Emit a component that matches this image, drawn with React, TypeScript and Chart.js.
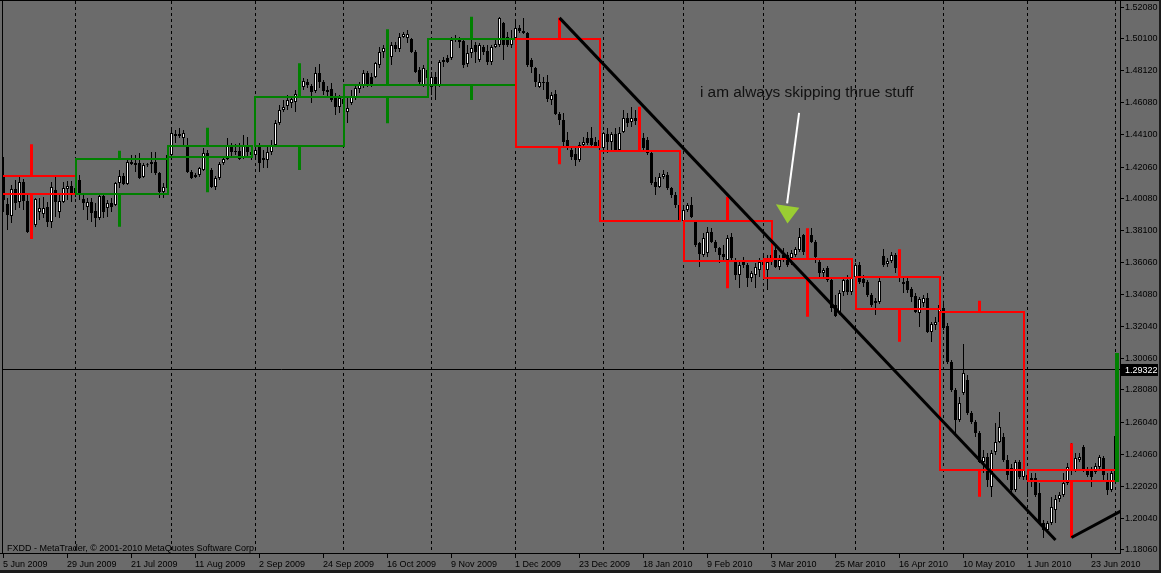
import React, { useEffect, useRef } from 'react';
import { Chart, registerables } from 'chart.js';

Chart.register(...registerables);

// ---- daily candles (EUR/USD, FXDD), bar index 0 = 5 Jun 2009 ----
const barOpen = [
  1.4153, 1.3971, 1.3896, 1.4065, 1.3984, 1.4109, 1.3990, 1.3795, 1.3839, 1.3921,
  1.3908, 1.3952, 1.3858, 1.4059, 1.3921, 1.3984, 1.4065, 1.4084, 1.4034, 1.4121,
  1.4002, 1.3952, 1.3984, 1.3927, 1.3883, 1.4021, 1.3946, 1.3977, 1.3965, 1.4103,
  1.4147, 1.4096, 1.4234, 1.4228, 1.4228, 1.4140, 1.4215, 1.4234, 1.4234, 1.4165,
  1.4046, 1.4071, 1.4278, 1.4410, 1.4410, 1.4385, 1.4341, 1.4172, 1.4140, 1.4153,
  1.4184, 1.4291, 1.4184, 1.4078, 1.4134, 1.4228, 1.4253, 1.4328, 1.4303, 1.4303,
  1.4259, 1.4335, 1.4297, 1.4278, 1.4328, 1.4259, 1.4247, 1.4297, 1.4341, 1.4479,
  1.4560, 1.4585, 1.4604, 1.4611, 1.4661, 1.4705, 1.4736, 1.4711, 1.4679, 1.4792,
  1.4736, 1.4686, 1.4692, 1.4642, 1.4579, 1.4629, 1.4548, 1.4604, 1.4642, 1.4692,
  1.4717, 1.4792, 1.4767, 1.4767, 1.4842, 1.4924, 1.4949, 1.4893, 1.4968, 1.4943,
  1.5018, 1.5012, 1.5006, 1.4924, 1.4811, 1.4717, 1.4811, 1.4705, 1.4767, 1.4717,
  1.4861, 1.4886, 1.4886, 1.5012, 1.4999, 1.4993, 1.4849, 1.4918, 1.4968, 1.4874,
  1.4955, 1.4930, 1.4861, 1.4955, 1.4968, 1.5106, 1.5018, 1.4968, 1.5012, 1.5074,
  1.5043, 1.5043, 1.4874, 1.4824, 1.4705, 1.4736, 1.4736, 1.4623, 1.4661, 1.4535,
  1.4498, 1.4372, 1.4310, 1.4284, 1.4247, 1.4341, 1.4385, 1.4385, 1.4360, 1.4335,
  1.4322, 1.4410, 1.4360, 1.4410, 1.4310, 1.4422, 1.4510, 1.4485, 1.4510, 1.4491,
  1.4385, 1.4372, 1.4291, 1.4109, 1.4078, 1.4140, 1.4153, 1.4071, 1.4027, 1.3965,
  1.3864, 1.3933, 1.3965, 1.3858, 1.3726, 1.3651, 1.3664, 1.3795, 1.3733, 1.3695,
  1.3657, 1.3620, 1.3764, 1.3620, 1.3526, 1.3620, 1.3588, 1.3507, 1.3526, 1.3557,
  1.3607, 1.3557, 1.3607, 1.3683, 1.3576, 1.3651, 1.3651, 1.3632, 1.3651, 1.3683,
  1.3777, 1.3683, 1.3777, 1.3733, 1.3607, 1.3538, 1.3570, 1.3494, 1.3338, 1.3294,
  1.3419, 1.3494, 1.3419, 1.3513, 1.3588, 1.3501, 1.3482, 1.3400, 1.3350, 1.3357,
  1.3645, 1.3595, 1.3614, 1.3651, 1.3570, 1.3469, 1.3488, 1.3438, 1.3394, 1.3288,
  1.3350, 1.3382, 1.3168, 1.3212, 1.3231, 1.3319, 1.3206, 1.2980, 1.2805, 1.2617,
  1.2786, 1.2867, 1.2661, 1.2604, 1.2535, 1.2353, 1.2385, 1.2197, 1.2416, 1.2479,
  1.2510, 1.2366, 1.2316, 1.2178, 1.2353, 1.2259, 1.2272, 1.2253, 1.2253, 1.2159,
  1.1971, 1.1927, 1.1971, 1.2052, 1.2121, 1.2146, 1.2222, 1.2322, 1.2303, 1.2366,
  1.2447, 1.2303, 1.2303, 1.2291, 1.2322, 1.2378, 1.2240, 1.2178, 1.2240,
];
const barHigh = [
  1.4266, 1.4009, 1.4090, 1.4121, 1.4153, 1.4128, 1.4027, 1.3921, 1.4009, 1.4009,
  1.4015, 1.3984, 1.4109, 1.4140, 1.4027, 1.4109, 1.4115, 1.4115, 1.4121, 1.4153,
  1.4027, 1.4009, 1.4009, 1.3977, 1.4027, 1.4027, 1.3996, 1.4009, 1.4109, 1.4184,
  1.4165, 1.4247, 1.4278, 1.4278, 1.4291, 1.4228, 1.4228, 1.4297, 1.4297, 1.4172,
  1.4103, 1.4310, 1.4435, 1.4435, 1.4447, 1.4435, 1.4385, 1.4184, 1.4165, 1.4203,
  1.4322, 1.4310, 1.4197, 1.4147, 1.4234, 1.4266, 1.4385, 1.4353, 1.4347, 1.4353,
  1.4404, 1.4391, 1.4341, 1.4341, 1.4353, 1.4310, 1.4328, 1.4372, 1.4498, 1.4592,
  1.4623, 1.4654, 1.4648, 1.4686, 1.4717, 1.4761, 1.4755, 1.4723, 1.4830, 1.4849,
  1.4748, 1.4711, 1.4730, 1.4667, 1.4654, 1.4654, 1.4636, 1.4686, 1.4723, 1.4736,
  1.4811, 1.4805, 1.4792, 1.4861, 1.4955, 1.4968, 1.4999, 1.4987, 1.4987, 1.5043,
  1.5049, 1.5062, 1.5012, 1.4937, 1.4830, 1.4842, 1.4836, 1.4799, 1.4799, 1.4874,
  1.4893, 1.4905, 1.5018, 1.5031, 1.5018, 1.5012, 1.4968, 1.4999, 1.4987, 1.4980,
  1.4968, 1.4968, 1.4968, 1.5012, 1.5143, 1.5112, 1.5049, 1.5062, 1.5125, 1.5093,
  1.5137, 1.5049, 1.4886, 1.4830, 1.4786, 1.4767, 1.4780, 1.4673, 1.4686, 1.4548,
  1.4542, 1.4422, 1.4328, 1.4322, 1.4360, 1.4391, 1.4422, 1.4454, 1.4391, 1.4416,
  1.4422, 1.4447, 1.4422, 1.4447, 1.4454, 1.4560, 1.4542, 1.4579, 1.4560, 1.4548,
  1.4416, 1.4391, 1.4297, 1.4140, 1.4165, 1.4184, 1.4172, 1.4078, 1.4046, 1.3996,
  1.3946, 1.3977, 1.4015, 1.3871, 1.3733, 1.3789, 1.3827, 1.3820, 1.3745, 1.3701,
  1.3714, 1.3777, 1.3789, 1.3632, 1.3607, 1.3639, 1.3601, 1.3551, 1.3601, 1.3632,
  1.3651, 1.3651, 1.3683, 1.3714, 1.3651, 1.3695, 1.3670, 1.3683, 1.3701, 1.3820,
  1.3783, 1.3745, 1.3820, 1.3745, 1.3620, 1.3570, 1.3582, 1.3513, 1.3400, 1.3432,
  1.3513, 1.3526, 1.3532, 1.3601, 1.3607, 1.3526, 1.3494, 1.3413, 1.3382, 1.3520,
  1.3689, 1.3632, 1.3670, 1.3664, 1.3588, 1.3507, 1.3507, 1.3451, 1.3413, 1.3388,
  1.3400, 1.3413, 1.3231, 1.3262, 1.3369, 1.3365, 1.3225, 1.2993, 1.2817, 1.2761,
  1.3093, 1.2899, 1.2673, 1.2617, 1.2548, 1.2429, 1.2410, 1.2429, 1.2598, 1.2667,
  1.2535, 1.2397, 1.2341, 1.2366, 1.2366, 1.2334, 1.2284, 1.2284, 1.2284, 1.2222,
  1.1990, 1.1983, 1.2134, 1.2146, 1.2165, 1.2284, 1.2347, 1.2472, 1.2410, 1.2410,
  1.2460, 1.2322, 1.2322, 1.2347, 1.2397, 1.2391, 1.2284, 1.2303, 1.2523,
];
const barLow = [
  1.3921, 1.3808, 1.3852, 1.3933, 1.3946, 1.3933, 1.3789, 1.3770, 1.3827, 1.3871,
  1.3883, 1.3827, 1.3820, 1.3889, 1.3883, 1.3977, 1.3996, 1.3984, 1.4015, 1.3996,
  1.3933, 1.3871, 1.3858, 1.3827, 1.3871, 1.3883, 1.3889, 1.3921, 1.3958, 1.4071,
  1.4090, 1.4090, 1.4215, 1.4172, 1.4128, 1.4134, 1.4203, 1.4165, 1.4153, 1.4009,
  1.4009, 1.4046, 1.4266, 1.4353, 1.4385, 1.4341, 1.4165, 1.4128, 1.4134, 1.4140,
  1.4178, 1.4184, 1.4071, 1.4059, 1.4121, 1.4215, 1.4247, 1.4272, 1.4278, 1.4247,
  1.4253, 1.4266, 1.4247, 1.4247, 1.4172, 1.4197, 1.4197, 1.4278, 1.4328, 1.4466,
  1.4548, 1.4560, 1.4573, 1.4548, 1.4636, 1.4686, 1.4698, 1.4604, 1.4667, 1.4698,
  1.4654, 1.4648, 1.4611, 1.4529, 1.4542, 1.4560, 1.4479, 1.4592, 1.4623, 1.4667,
  1.4698, 1.4705, 1.4705, 1.4761, 1.4824, 1.4886, 1.4874, 1.4842, 1.4924, 1.4924,
  1.5012, 1.4980, 1.4918, 1.4792, 1.4717, 1.4705, 1.4717, 1.4654, 1.4623, 1.4705,
  1.4830, 1.4855, 1.4874, 1.4987, 1.4949, 1.4824, 1.4830, 1.4886, 1.4855, 1.4861,
  1.4905, 1.4842, 1.4842, 1.4949, 1.4955, 1.4874, 1.4955, 1.4949, 1.4999, 1.5043,
  1.5037, 1.4830, 1.4792, 1.4705, 1.4698, 1.4686, 1.4611, 1.4592, 1.4529, 1.4466,
  1.4322, 1.4310, 1.4247, 1.4209, 1.4234, 1.4328, 1.4341, 1.4328, 1.4322, 1.4310,
  1.4310, 1.4291, 1.4297, 1.4297, 1.4297, 1.4416, 1.4454, 1.4454, 1.4466, 1.4322,
  1.4297, 1.4278, 1.4090, 1.4027, 1.4071, 1.4128, 1.4059, 1.4009, 1.3946, 1.3858,
  1.3858, 1.3921, 1.3883, 1.3701, 1.3576, 1.3639, 1.3639, 1.3726, 1.3670, 1.3601,
  1.3607, 1.3588, 1.3620, 1.3494, 1.3444, 1.3570, 1.3451, 1.3482, 1.3444, 1.3513,
  1.3494, 1.3432, 1.3588, 1.3570, 1.3557, 1.3607, 1.3576, 1.3588, 1.3639, 1.3670,
  1.3651, 1.3632, 1.3726, 1.3601, 1.3513, 1.3513, 1.3482, 1.3294, 1.3262, 1.3275,
  1.3394, 1.3400, 1.3400, 1.3501, 1.3469, 1.3451, 1.3388, 1.3325, 1.3275, 1.3344,
  1.3576, 1.3576, 1.3601, 1.3538, 1.3482, 1.3413, 1.3413, 1.3357, 1.3288, 1.3200,
  1.3325, 1.3162, 1.3106, 1.3181, 1.3212, 1.3181, 1.2968, 1.2792, 1.2535, 1.2604,
  1.2773, 1.2648, 1.2592, 1.2510, 1.2347, 1.2284, 1.2197, 1.2134, 1.2397, 1.2472,
  1.2353, 1.2240, 1.2165, 1.2165, 1.2247, 1.2240, 1.2134, 1.2197, 1.2134, 1.1958,
  1.1877, 1.1908, 1.1958, 1.1971, 1.2103, 1.2134, 1.2209, 1.2272, 1.2291, 1.2353,
  1.2291, 1.2259, 1.2197, 1.2278, 1.2303, 1.2240, 1.2146, 1.2165, 1.2228,
];
const barClose = [
  1.3996, 1.3902, 1.4065, 1.3977, 1.4109, 1.3990, 1.3795, 1.3833, 1.4002, 1.3946,
  1.3946, 1.3858, 1.4078, 1.3984, 1.3990, 1.4071, 1.4084, 1.4034, 1.4071, 1.4027,
  1.3977, 1.3984, 1.3915, 1.3883, 1.4021, 1.3921, 1.3977, 1.3952, 1.4103, 1.4147,
  1.4096, 1.4234, 1.4222, 1.4215, 1.4134, 1.4215, 1.4214, 1.4222, 1.4165, 1.4046,
  1.4078, 1.4278, 1.4416, 1.4397, 1.4397, 1.4416, 1.4172, 1.4134, 1.4153, 1.4197,
  1.4291, 1.4215, 1.4078, 1.4134, 1.4222, 1.4253, 1.4335, 1.4297, 1.4297, 1.4253,
  1.4341, 1.4297, 1.4278, 1.4310, 1.4228, 1.4247, 1.4297, 1.4341, 1.4479, 1.4560,
  1.4579, 1.4623, 1.4629, 1.4661, 1.4698, 1.4742, 1.4717, 1.4673, 1.4792, 1.4736,
  1.4679, 1.4673, 1.4623, 1.4579, 1.4636, 1.4598, 1.4573, 1.4642, 1.4698, 1.4723,
  1.4792, 1.4717, 1.4717, 1.4855, 1.4924, 1.4949, 1.4937, 1.4968, 1.4943, 1.5018,
  1.5037, 1.5037, 1.4924, 1.4799, 1.4736, 1.4824, 1.4761, 1.4767, 1.4717, 1.4861,
  1.4874, 1.4861, 1.4999, 1.4999, 1.4987, 1.4842, 1.4918, 1.4949, 1.4924, 1.4968,
  1.4924, 1.4861, 1.4955, 1.4974, 1.5137, 1.4968, 1.4968, 1.5012, 1.5074, 1.5056,
  1.5056, 1.4842, 1.4830, 1.4736, 1.4736, 1.4730, 1.4629, 1.4654, 1.4535, 1.4498,
  1.4360, 1.4335, 1.4266, 1.4247, 1.4341, 1.4360, 1.4353, 1.4341, 1.4335, 1.4372,
  1.4416, 1.4360, 1.4410, 1.4310, 1.4416, 1.4510, 1.4479, 1.4510, 1.4491, 1.4372,
  1.4322, 1.4291, 1.4103, 1.4078, 1.4140, 1.4159, 1.4071, 1.4027, 1.3965, 1.3864,
  1.3933, 1.3965, 1.3889, 1.3714, 1.3657, 1.3758, 1.3795, 1.3733, 1.3695, 1.3651,
  1.3639, 1.3758, 1.3632, 1.3526, 1.3588, 1.3588, 1.3507, 1.3538, 1.3576, 1.3607,
  1.3588, 1.3607, 1.3651, 1.3576, 1.3620, 1.3632, 1.3588, 1.3664, 1.3689, 1.3764,
  1.3670, 1.3714, 1.3733, 1.3639, 1.3538, 1.3557, 1.3494, 1.3319, 1.3269, 1.3413,
  1.3494, 1.3419, 1.3507, 1.3588, 1.3482, 1.3476, 1.3400, 1.3338, 1.3363, 1.3488,
  1.3588, 1.3614, 1.3651, 1.3570, 1.3507, 1.3482, 1.3432, 1.3388, 1.3294, 1.3375,
  1.3382, 1.3168, 1.3219, 1.3231, 1.3338, 1.3193, 1.2980, 1.2805, 1.2617, 1.2723,
  1.2911, 1.2661, 1.2604, 1.2535, 1.2353, 1.2385, 1.2240, 1.2410, 1.2479, 1.2573,
  1.2366, 1.2272, 1.2178, 1.2353, 1.2259, 1.2303, 1.2240, 1.2228, 1.2146, 1.1971,
  1.1927, 1.1971, 1.2071, 1.2121, 1.2146, 1.2222, 1.2322, 1.2366, 1.2378, 1.2385,
  1.2303, 1.2272, 1.2259, 1.2328, 1.2385, 1.2272, 1.2178, 1.2284, 1.2516,
];

// ---- monthly candles drawn as boxes (Jun 2009 .. Jul 2010) ----
const monthStartBar = [-4, 18, 41, 63, 85, 106, 128, 149, 170, 190, 213, 234, 256, 278];
const monthEndBar = [18, 41, 62, 85, 106, 128, 149, 169, 192, 212, 234, 255, 278, 278.6];
const monthWickBar = [7, 29, 51, 74, 96, 117, 139, 159, 181, 201, 224, 244, 267, 278];
const monthOpen = [1.4147, 1.4036, 1.4268, 1.4337, 1.4644, 1.4717, 1.5006, 1.4303, 1.3864, 1.3626, 1.3515, 1.3292, 1.2303, 1.2236];
const monthHigh = [1.4345, 1.4305, 1.4449, 1.4853, 1.5066, 1.5145, 1.5138, 1.4581, 1.4017, 1.3819, 1.3687, 1.3365, 1.2471, 1.3031];
const monthLow = [1.3752, 1.3829, 1.4044, 1.4184, 1.4477, 1.4623, 1.4220, 1.3858, 1.3443, 1.3264, 1.3108, 1.2136, 1.1879, 1.2236];
const monthClose = [1.4036, 1.4255, 1.4337, 1.4644, 1.4717, 1.5006, 1.4331, 1.3864, 1.3616, 1.3509, 1.3313, 1.2303, 1.2236, 1.3031];

// ---- axes ----
const separatorBars = [18, 42, 63, 85, 107, 128, 150, 170, 190, 213, 235, 256, 278];
const dateTickBars = [0, 16, 32, 48, 64, 80, 96, 112, 128, 144, 160, 176, 192, 208, 224, 240, 256, 272];
const dateTickLabels = [
  '5 Jun 2009', '29 Jun 2009', '21 Jul 2009', '11 Aug 2009', '2 Sep 2009', '24 Sep 2009',
  '16 Oct 2009', '9 Nov 2009', '1 Dec 2009', '23 Dec 2009', '18 Jan 2010', '9 Feb 2010',
  '3 Mar 2010', '25 Mar 2010', '16 Apr 2010', '10 May 2010', '1 Jun 2010', '23 Jun 2010',
];
const priceTicks = [
  1.52080, 1.50100, 1.48120, 1.46080, 1.44100, 1.42060, 1.40080, 1.38100, 1.36060,
  1.34080, 1.32040, 1.30060, 1.28080, 1.26040, 1.24060, 1.22020, 1.20040, 1.18060,
];
const bidPrice = 1.29322;
const X_MIN = -0.375;
const X_MAX = 279.125;
const Y_MIN = 1.17829;
const Y_MAX = 1.52437;

// ---- drawn objects ----
const trendFrom = [[139, 1.5138], [267, 1.1880]];
const trendTo = [[263, 1.1864], [280, 1.2055]];
const noteText = 'i am always skipping thrue stuff';
const noteAnchor = [174.1, 1.4642];
const arrowTail = [198.9, 1.4543];
const arrowTip = [195.9, 1.3975];
const arrowHead = [[193.1, 1.3969], [198.95, 1.3948], [196.0, 1.3849]];
const copyright = 'FXDD - MetaTrader, \u00A9 2001-2010 MetaQuotes Software Corp.';

// ---- styles ----
const W = 1161;
const H = 573;
const BG = '#6b6b6b';
const GREEN = '#008000';
const RED = '#ff0000';
const FONT = '9px "Liberation Sans", Arial, sans-serif';
const NOTE_FONT = '15.4px "Liberation Sans", Arial, sans-serif';

const mt4Plugin = {
  id: 'mt4Overlay',
  beforeDraw(chart: any) {
    const { ctx } = chart;
    ctx.save();
    ctx.fillStyle = BG;
    ctx.fillRect(0, 0, W, H);
    ctx.restore();
  },
  beforeDatasetsDraw(chart: any) {
    const { ctx, chartArea: a } = chart;
    const xs = chart.scales.x;
    const ys = chart.scales.y;
    ctx.save();
    ctx.beginPath();
    ctx.rect(a.left, a.top, a.right - a.left, a.bottom - a.top);
    ctx.clip();
    ctx.strokeStyle = '#000';
    ctx.lineWidth = 1;
    ctx.setLineDash([3, 3]);
    separatorBars.forEach((b) => {
      const px = Math.floor(xs.getPixelForValue(b)) + 0.5;
      ctx.beginPath();
      ctx.moveTo(px, a.top);
      ctx.lineTo(px, a.bottom);
      ctx.stroke();
    });
    ctx.setLineDash([]);
    const by = Math.floor(ys.getPixelForValue(bidPrice)) + 0.5;
    ctx.beginPath();
    ctx.moveTo(a.left, by);
    ctx.lineTo(a.right, by);
    ctx.stroke();
    ctx.restore();
  },
  afterDatasetsDraw(chart: any) {
    const { ctx, chartArea: a } = chart;
    const xs = chart.scales.x;
    const ys = chart.scales.y;
    const px = (v: number) => xs.getPixelForValue(v);
    const py = (v: number) => ys.getPixelForValue(v);

    ctx.save();
    ctx.beginPath();
    ctx.rect(a.left, a.top, a.right - a.left, a.bottom - a.top);
    ctx.clip();

    // monthly boxes
    monthOpen.forEach((o, m) => {
      const c = monthClose[m];
      ctx.strokeStyle = c >= o ? GREEN : RED;
      const x1 = Math.round(px(monthStartBar[m]));
      const x2 = Math.round(px(monthEndBar[m]));
      const yTop = Math.round(py(Math.max(o, c)));
      const yBot = Math.round(py(Math.min(o, c)));
      const xw = px(monthWickBar[m]);
      ctx.lineWidth = 3;
      ctx.beginPath();
      ctx.moveTo(xw, py(monthHigh[m]));
      ctx.lineTo(xw, yTop);
      ctx.moveTo(xw, yBot);
      ctx.lineTo(xw, py(monthLow[m]));
      ctx.stroke();
      ctx.lineWidth = 2;
      ctx.strokeRect(x1, yTop, x2 - x1, yBot - yTop);
    });

    // trend lines
    ctx.strokeStyle = '#000';
    ctx.lineWidth = 3;
    trendFrom.forEach((f, k) => {
      const t = trendTo[k];
      ctx.beginPath();
      ctx.moveTo(px(f[0]), py(f[1]));
      ctx.lineTo(px(t[0]), py(t[1]));
      ctx.stroke();
    });

    // arrow + text
    ctx.strokeStyle = '#ffffff';
    ctx.lineWidth = 2;
    ctx.beginPath();
    ctx.moveTo(px(arrowTail[0]), py(arrowTail[1]));
    ctx.lineTo(px(arrowTip[0]), py(arrowTip[1]));
    ctx.stroke();
    ctx.fillStyle = '#9acd32';
    ctx.beginPath();
    arrowHead.forEach((p, k) => {
      if (k === 0) ctx.moveTo(px(p[0]), py(p[1]));
      else ctx.lineTo(px(p[0]), py(p[1]));
    });
    ctx.closePath();
    ctx.fill();
    ctx.fillStyle = '#111111';
    ctx.font = NOTE_FONT;
    ctx.textBaseline = 'alphabetic';
    ctx.textAlign = 'left';
    ctx.fillText(noteText, px(noteAnchor[0]), py(noteAnchor[1]));
    ctx.restore();

    // frame, axes, labels
    ctx.save();
    ctx.fillStyle = '#000';
    ctx.fillRect(0, 0, W, 1);
    ctx.fillRect(a.left, 0, 1, a.bottom);
    ctx.fillRect(0, a.bottom, a.right + 1, 1);
    ctx.fillRect(a.right, 0, 1, a.bottom + 1);

    ctx.font = FONT;
    ctx.textAlign = 'left';
    ctx.textBaseline = 'alphabetic';
    priceTicks.forEach((v) => {
      const y = Math.round(py(v));
      ctx.fillRect(a.right + 1, y, 3, 1);
      ctx.fillText(v.toFixed(5), a.right + 5, y + 3);
    });
    dateTickBars.forEach((b, k) => {
      const x = Math.floor(px(b));
      ctx.fillRect(x, a.bottom + 1, 1, 4);
      ctx.fillText(dateTickLabels[k], x, a.bottom + 14);
    });
    ctx.fillText(copyright, 7, a.bottom - 2);

    // bid price label
    const by = Math.round(py(bidPrice));
    ctx.fillStyle = '#000';
    ctx.fillRect(a.right, by - 6, 38, 12);
    ctx.fillStyle = '#ffffff';
    ctx.fillText(bidPrice.toFixed(5), a.right + 5, by + 3);

    // window edges
    ctx.fillStyle = '#1a1a1a';
    ctx.fillRect(W - 2, 0, 2, H);
    ctx.fillRect(0, H - 3, W, 3);
    ctx.restore();
  },
};

export default function App() {
  const ref = useRef<HTMLCanvasElement | null>(null);

  useEffect(() => {
    document.body.style.margin = '0';
    const canvas = ref.current;
    if (!canvas) return;
    const bars = barOpen.map((_, i) => i);
    const chart = new Chart(canvas, {
      type: 'bar',
      data: {
        datasets: [
          {
            type: 'bar',
            label: 'body',
            data: bars.map((i) => ({ x: i, y: [barOpen[i], barClose[i]] })) as any,
            backgroundColor: bars.map((i) => (barClose[i] >= barOpen[i] ? '#ffffff' : '#000000')),
            borderColor: '#000000',
            borderWidth: 1,
            borderSkipped: false,
            barThickness: 3,
            minBarLength: 1,
            grouped: false,
            inflateAmount: 0,
            order: 1,
          } as any,
          {
            type: 'bar',
            label: 'wick',
            data: bars.map((i) => ({ x: i, y: [barLow[i], barHigh[i]] })) as any,
            backgroundColor: '#000000',
            borderWidth: 0,
            barThickness: 1,
            minBarLength: 1,
            grouped: false,
            inflateAmount: 0,
            order: 2,
          } as any,
        ],
      },
      options: {
        animation: false,
        responsive: false,
        devicePixelRatio: 1,
        events: [],
        layout: { padding: { left: 2, top: 1, right: 0, bottom: 0 } },
        plugins: { legend: { display: false }, tooltip: { enabled: false } },
        scales: {
          x: {
            type: 'linear',
            min: X_MIN,
            max: X_MAX,
            offset: false,
            grid: { display: false },
            border: { display: false },
            ticks: { display: false },
            afterFit: (s: any) => {
              s.height = 20;
            },
          },
          y: {
            type: 'linear',
            position: 'right',
            min: Y_MIN,
            max: Y_MAX,
            grid: { display: false },
            border: { display: false },
            ticks: { display: false },
            afterFit: (s: any) => {
              s.width = 41;
            },
          },
        },
      } as any,
      plugins: [mt4Plugin],
    });
    return () => chart.destroy();
  }, []);

  return (
    <div style={{ width: W, height: H, overflow: 'hidden', background: BG }}>
      <canvas ref={ref} width={W} height={H} style={{ display: 'block', width: W, height: H }} />
    </div>
  );
}
